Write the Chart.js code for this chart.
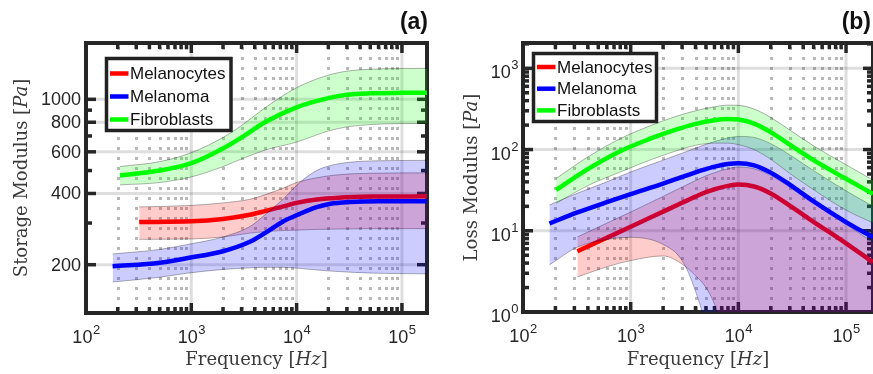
<!DOCTYPE html>
<html>
<head>
<meta charset="utf-8">
<script src="https://cdn.jsdelivr.net/npm/chart.js@4.4.1/dist/chart.umd.min.js"></script>
<style>
    html, body { margin: 0; padding: 0; background: #fff; }
    #wrap { position: relative; width: 873px; height: 374px; overflow: hidden; }
    canvas { position: absolute; top: 0; }
    #chartA { left: 0; }
    #chartB { left: 440px; }
</style>
</head>
<body>
<div id="wrap">
    <canvas id="chartA" width="440" height="374"></canvas>
    <canvas id="chartB" width="433" height="374"></canvas>
</div>
<script>
// Series names and colours
let names = ['Melanocytes', 'Melanoma', 'Fibroblasts'];
let colors = ['#ff0000', '#0000ff', '#00ff00'];
let fills = ['rgba(255,0,0,0.2)', 'rgba(0,0,255,0.2)', 'rgba(0,255,0,0.2)'];

// Ticks
let xMajor = [1e2, 1e3, 1e4, 1e5];
let xExp = [2, 3, 4, 5];
let yMajorA = [200, 400, 600, 800, 1000];
let yMinorA = [300, 500, 700, 900];
let yMajorB = [1, 10, 100, 1000];
let yExpB = [0, 1, 2, 3];

// (a) Storage modulus [Pa]
let freqRedA = [320, 1000, 2000, 3600, 5000, 7500, 10000, 15500, 25000, 50000, 173000];
let redA = [303, 305, 312, 325, 337, 353, 365, 377, 384, 388, 389];
let redUpA = [351, 356, 365, 378, 395, 422, 445, 466, 480, 487, 489];
let redLowA = [256, 257, 262, 272, 276, 279, 280, 282, 283, 284, 284];

let freqBlueA = [179, 500, 900, 2000, 3600, 5000, 7500, 10700, 15500, 21000, 32000, 60000, 173000];
let blueA = [197, 204, 213, 228, 250, 272, 305, 328, 350, 362, 368, 371, 371];
let blueUpA = [222, 232, 243, 262, 290, 325, 380, 445, 500, 525, 542, 550, 552];
let blueLowA = [169, 177, 184, 191, 194, 195, 195, 193, 190, 188, 186, 184, 183];

let freqGreenA = [210, 500, 1000, 2000, 3000, 5000, 10000, 20000, 30000, 50000, 100000, 173000];
let greenA = [476, 500, 537, 620, 690, 800, 925, 1012, 1045, 1060, 1065, 1066];
let greenUpA = [520, 545, 595, 690, 775, 920, 1120, 1265, 1315, 1340, 1350, 1352];
let greenLowA = [435, 445, 470, 520, 560, 610, 660, 735, 765, 782, 790, 790];

// (b) Loss modulus [Pa]
let freqRedB = [320, 600, 1000, 2000, 3000, 4000, 5000, 6300, 8000, 10000, 14000, 20000, 30000, 50000, 100000, 178000];
let redB = [5.6, 8.2, 11.2, 17.2, 22.1, 26.3, 29.9, 33.1, 35.7, 37, 35.1, 28.8, 20.4, 12.9, 7.0, 4.1];
let redUpB = [8.4, 12.4, 17, 26.5, 34.5, 41.5, 47.5, 53, 58, 61, 58, 48, 34.5, 22, 12, 7.2];
let redLowB = [2.7, 3.6, 4.3, 4.9, 3.9, 2.8, 2.0, 1.05, 0.3, 0.05, 0.05, 0.05, 0.05, 0.05, 0.05, 0.05];

let freqBlueB = [176, 320, 600, 1000, 2000, 3000, 4000, 5000, 6300, 8000, 10000, 14000, 20000, 30000, 50000, 100000, 178000];
let blueB = [12.3, 16.8, 22.5, 28.2, 38, 46, 52.5, 57.5, 62.5, 66.5, 68, 64, 52, 37, 23, 12.8, 8.3];
let blueUpB = [20.8, 29, 40, 53, 74, 90, 104, 116, 128, 139, 145, 141, 118, 86, 55, 31, 20];
let blueLowB = [3.8, 6.3, 7.8, 8.3, 6.8, 4.3, 1.8, 0.6, 0.05, 0.05, 0.05, 0.05, 0.05, 0.05, 0.05, 0.05, 0.05];

let freqGreenB = [203, 400, 800, 1500, 2500, 4000, 6000, 8000, 10000, 14000, 20000, 30000, 50000, 100000, 178000];
let greenB = [31.8, 57.5, 95.5, 135, 172, 207, 230, 237, 234, 209, 164, 115, 74, 43.6, 28.5];
let greenUpB = [44, 81, 136, 195, 250, 300, 336, 352, 350, 315, 248, 174, 111, 65, 42];
let greenLowB = [21.8, 36, 53, 74, 94, 113, 120, 120, 115, 100, 76, 51, 32, 18, 12.5];

function pts(f, v) {
    return f.map(function (x, i) { return {x: x, y: v[i]}; });
}

// line + shaded band, the band is drawn over the line like in the original figure
function series(i, f, mid, up, low, order) {
    return [
        {data: pts(f, mid), borderColor: colors[i], borderWidth: 4.5, fill: false, order: order + 1},
        {data: pts(f, up), borderColor: 'rgba(0,0,0,0.45)', borderWidth: 0.7, backgroundColor: fills[i], fill: '+1', order: order},
        {data: pts(f, low), borderColor: 'rgba(0,0,0,0.45)', borderWidth: 0.7, fill: false, order: order}
    ];
}

function minorOf(majors) {
    let out = [];
    majors.forEach(function (m) {
        for (let k = 2; k <= 9; k++) out.push(m * k);
    });
    return out;
}

function seg(ctx, x1, y1, x2, y2) {
    ctx.beginPath();
    ctx.moveTo(x1, y1);
    ctx.lineTo(x2, y2);
    ctx.stroke();
}

function powLabel(ctx, e, x, y, align) {
    ctx.font = '18px "Liberation Sans", Arial, sans-serif';
    let w1 = ctx.measureText('10').width;
    ctx.font = '13px "Liberation Sans", Arial, sans-serif';
    let w2 = ctx.measureText(String(e)).width;
    let x0 = align === 'center' ? x - (w1 + w2) / 2 : x - w1 - w2;
    ctx.textAlign = 'left';
    ctx.textBaseline = 'alphabetic';
    ctx.font = '18px "Liberation Sans", Arial, sans-serif';
    ctx.fillText('10', x0, y);
    ctx.font = '13px "Liberation Sans", Arial, sans-serif';
    ctx.fillText(String(e), x0 + w1 + 0.5, y - 9);
}

// text made of upright and italic pieces, centred on (x, y)
function mixedText(ctx, parts, x, y, rotate) {
    let fonts = {n: '18px "DejaVu Serif", serif', i: 'italic 18px "DejaVu Serif", serif'};
    let total = 0;
    parts.forEach(function (p) { ctx.font = fonts[p[1]]; total += ctx.measureText(p[0]).width; });
    ctx.save();
    ctx.translate(x, y);
    if (rotate) ctx.rotate(-Math.PI / 2);
    ctx.fillStyle = '#3a3a3a';
    ctx.textAlign = 'left';
    ctx.textBaseline = 'middle';
    let cx = -total / 2;
    parts.forEach(function (p) {
        ctx.font = fonts[p[1]];
        ctx.fillText(p[0], cx, 0);
        cx += ctx.measureText(p[0]).width;
    });
    ctx.restore();
}

function decoPlugin(cfg) {
    return {
        id: 'deco',
        beforeDatasetsDraw: function (chart) {
            let ctx = chart.ctx, a = chart.chartArea;
            let xs = chart.scales.x, ys = chart.scales.y;
            ctx.save();
            //dotted minor grid
            ctx.strokeStyle = 'rgba(0,0,0,0.28)';
            ctx.lineWidth = 3;
            ctx.setLineDash([3, 7]);
            minorOf(xMajor).forEach(function (v) {
                let px = Math.round(xs.getPixelForValue(v)) + 0.5;
                if (px > a.left + 3 && px < a.right - 3) seg(ctx, px, a.top + 4, px, a.bottom);
            });
            //solid major grid
            ctx.setLineDash([]);
            ctx.strokeStyle = 'rgba(0,0,0,0.13)';
            ctx.lineWidth = 3;
            xMajor.forEach(function (v) {
                let px = xs.getPixelForValue(v);
                if (px > a.left + 3 && px < a.right - 3) seg(ctx, px, a.bottom, px, a.top);
            });
            cfg.yMajor.forEach(function (v) {
                let py = ys.getPixelForValue(v);
                if (py > a.top + 3 && py < a.bottom - 3) seg(ctx, a.left, py, a.right, py);
            });
            //ticks and box
            ctx.strokeStyle = '#262626';
            ctx.lineWidth = 3.5;
            let xTicks = xMajor.map(function (v) { return [v, 10]; })
                .concat(minorOf(xMajor).map(function (v) { return [v, 6]; }));
            xTicks.forEach(function (t) {
                let px = xs.getPixelForValue(t[0]);
                if (px < a.left || px > a.right) return;
                seg(ctx, px, a.bottom, px, a.bottom - t[1]);
                seg(ctx, px, a.top, px, a.top + t[1]);
            });
            let yTicks = cfg.yMajor.map(function (v) { return [v, 10]; })
                .concat(cfg.yMinor.map(function (v) { return [v, 6]; }));
            yTicks.forEach(function (t) {
                let py = ys.getPixelForValue(t[0]);
                if (py < a.top || py > a.bottom) return;
                seg(ctx, a.left, py, a.left + t[1], py);
                seg(ctx, a.right, py, a.right - t[1], py);
            });
            ctx.lineWidth = 4;
            ctx.strokeRect(a.left, a.top, a.right - a.left, a.bottom - a.top);
            ctx.restore();
        },
        afterDatasetsDraw: function (chart) {
            let ctx = chart.ctx, a = chart.chartArea;
            let xs = chart.scales.x, ys = chart.scales.y;
            ctx.save();
            ctx.fillStyle = '#262626';
            xMajor.forEach(function (v, i) {
                powLabel(ctx, xExp[i], xs.getPixelForValue(v), a.bottom + 30, 'center');
            });
            if (cfg.yExp) {
                cfg.yMajor.forEach(function (v, i) {
                    powLabel(ctx, cfg.yExp[i], a.left - 5, ys.getPixelForValue(v) + 10, 'right');
                });
            } else {
                ctx.font = '18px "Liberation Sans", Arial, sans-serif';
                ctx.textAlign = 'right';
                ctx.textBaseline = 'middle';
                cfg.yMajor.forEach(function (v) {
                    ctx.fillText(String(v), a.left - 5, ys.getPixelForValue(v) + 1);
                });
            }
            mixedText(ctx, [['Frequency ', 'n'], ['[', 'n'], ['Hz', 'i'], [']', 'n']], (a.left + a.right) / 2, 360, false);
            mixedText(ctx, [[cfg.yTitle + ' ', 'n'], ['[', 'n'], ['Pa', 'i'], [']', 'n']], cfg.yTitleX, (a.top + a.bottom) / 2, true);

            //legend
            let L = cfg.legend;
            ctx.fillStyle = '#fff';
            ctx.fillRect(L.x, L.y, L.w, L.h);
            ctx.strokeStyle = '#222';
            ctx.lineWidth = 3.5;
            ctx.strokeRect(L.x, L.y, L.w, L.h);
            names.forEach(function (n, i) {
                let yy = L.y + L.first + i * L.step;
                ctx.strokeStyle = colors[i];
                ctx.lineWidth = 4.5;
                seg(ctx, L.x + 3.5, yy, L.x + 22, yy);
                ctx.fillStyle = '#111';
                ctx.font = '17px "Liberation Sans", Arial, sans-serif';
                ctx.textAlign = 'left';
                ctx.textBaseline = 'middle';
                ctx.fillText(n, L.x + 23.5, yy + 1);
            });

            ctx.fillStyle = '#111';
            ctx.font = 'bold 23px "Liberation Sans", Arial, sans-serif';
            ctx.textAlign = 'right';
            ctx.textBaseline = 'alphabetic';
            ctx.fillText(cfg.letter, cfg.letterX, 29);
            ctx.restore();
        }
    };
}

function makeChart(id, datasets, cfg) {
    return new Chart(document.getElementById(id), {
        type: 'line',
        data: {datasets: datasets},
        options: {
            responsive: false,
            animation: false,
            devicePixelRatio: 1,
            layout: {padding: cfg.pad},
            elements: {point: {radius: 0}, line: {cubicInterpolationMode: 'monotone'}},
            plugins: {legend: {display: false}, tooltip: {enabled: false}},
            scales: {
                x: {
                    type: 'logarithmic', min: 100, max: cfg.xMax,
                    ticks: {display: false}, grid: {display: false}, border: {display: false},
                    afterFit: function (s) { s.height = cfg.bottomH; }
                },
                y: {
                    type: 'logarithmic', min: cfg.yMin, max: cfg.yMax,
                    ticks: {display: false}, grid: {display: false}, border: {display: false},
                    afterFit: function (s) { s.width = cfg.leftW; }
                }
            }
        },
        plugins: [decoPlugin(cfg)]
    });
}

//Panel (a)
let dataA = series(0, freqRedA, redA, redUpA, redLowA, 5)
    .concat(series(1, freqBlueA, blueA, blueUpA, blueLowA, 3))
    .concat(series(2, freqGreenA, greenA, greenUpA, greenLowA, 1));
makeChart('chartA', dataA, {
    pad: {top: 43, right: 13, left: 0, bottom: 0},
    leftW: 86, bottomH: 61, xMax: 1.73e5, yMin: 125, yMax: 1730,
    yMajor: yMajorA, yMinor: yMinorA, yExp: null,
    yTitle: 'Storage Modulus', yTitleX: 22,
    legend: {x: 106.5, y: 58.5, w: 124.5, h: 72, first: 15, step: 23},
    letter: '(a)', letterX: 428
});

//Panel (b)
let dataB = series(0, freqRedB, redB, redUpB, redLowB, 5)
    .concat(series(1, freqBlueB, blueB, blueUpB, blueLowB, 3))
    .concat(series(2, freqGreenB, greenB, greenUpB, greenLowB, 1));
makeChart('chartB', dataB, {
    pad: {top: 43, right: 0, left: 0, bottom: 0},
    leftW: 83, bottomH: 62, xMax: 1.78e5, yMin: 1, yMax: 2050,
    yMajor: yMajorB, yMinor: minorOf(yMajorB), yExp: yExpB,
    yTitle: 'Loss Modulus', yTitleX: 32,
    legend: {x: 93.5, y: 53.5, w: 123, h: 68, first: 13.5, step: 21.7},
    letter: '(b)', letterX: 431
});
</script>
</body>
</html>
